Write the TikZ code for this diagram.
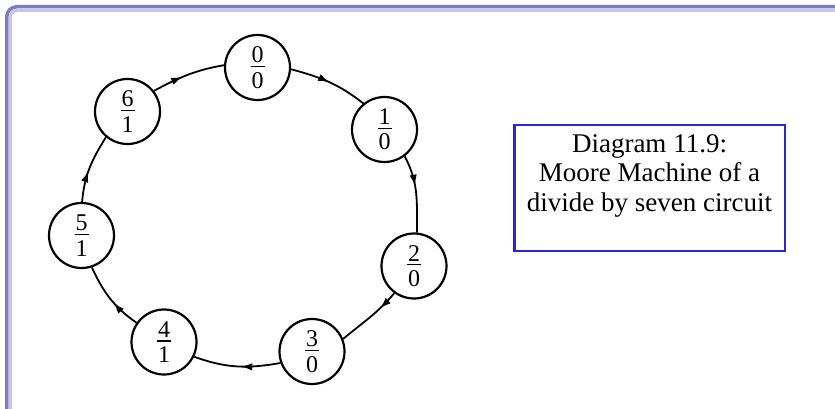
\documentclass[tikz,border=0pt]{standalone}
\usepackage{fontspec}
\setmainfont{Liberation Serif}
\usetikzlibrary{arrows.meta,decorations.markings}
\definecolor{frameout}{RGB}{125,125,185}
\definecolor{framein}{RGB}{198,198,238}
\definecolor{boxblue}{RGB}{40,40,205}
\newcommand\frc[2]{\vbox{\hbox to 14pt{\hss#1\hss}\kern3pt\hrule height 1.3pt\kern5pt\hbox to 14pt{\hss#2\hss}}}
\tikzset{
  stnode/.style={circle, draw=black, line width=2.2pt, minimum size=65pt, inner sep=0pt,
    font=\fontsize{24}{28}\selectfont, fill=white},
  trans/.style={draw=black, line width=1.8pt, postaction={decorate},
    decoration={markings, mark=at position #1 with {\arrow{Latex[length=11pt,width=7.5pt]}}}},
  trans/.default=0.5,
  captext/.style={anchor=north, inner sep=0pt, align=center, font=\fontsize{27}{29.5}\selectfont},
  capbox/.style={draw=boxblue, line width=2.5pt, minimum width=270.5pt, minimum height=125.5pt,
    anchor=north west, inner sep=0pt},
}
\begin{document}
\begin{tikzpicture}[x=1pt,y=1pt]
\useasboundingbox (0,0) rectangle (835,-409);
\fill[white] (0,0) rectangle (835,-409);
\begin{scope}
\clip (0,0) rectangle (835,-409);
\draw[frameout, line width=3.5pt, rounded corners=10pt] (6.75,-6.75) rectangle (870,-450);
\draw[framein, line width=3.5pt, rounded corners=7pt] (10.25,-10.25) rectangle (866,-446);
\end{scope}

\node[stnode] (s0) at (257.5,-67.5) {\frc{0}{0}};
\node[stnode] (s1) at (384.5,-129.5) {\frc{1}{0}};
\node[stnode] (s2) at (414,-266) {\frc{2}{0}};
\node[stnode] (s3) at (312,-351.5) {\frc{3}{0}};
\node[stnode] (s4) at (164,-342) {\frc{4}{1}};
\node[stnode] (s5) at (81.5,-235.5) {\frc{5}{1}};
\node[stnode] (s6) at (127.5,-111.5) {\frc{6}{1}};

\draw[trans=0.5] (s0.-3) to[out=-15,in=142] (s1.129);
\draw[trans=0.4] (s1.-53) to[out=-62,in=90] (s2.85);
\draw[trans=0.3] (s2.-126) to[out=230,in=40] (s3.22);
\draw[trans=0.45] (s3.200) to[out=190,in=-20] (s4.-26);
\draw[trans=0.42] (s4.145) to[out=145,in=-65] (s5.-72);
\draw[trans=0.45] (s5.89) to[out=85,in=238] (s6.230);
\draw[trans=0.42] (s6.38) to[out=28,in=190] (s0.176);

\node[capbox] (box) at (513,-124) {};
\node[captext] (cap) at (649.5,-134) {Diagram 11.9:\\Moore Machine of a\\divide by seven circuit};
\end{tikzpicture}
\end{document}
